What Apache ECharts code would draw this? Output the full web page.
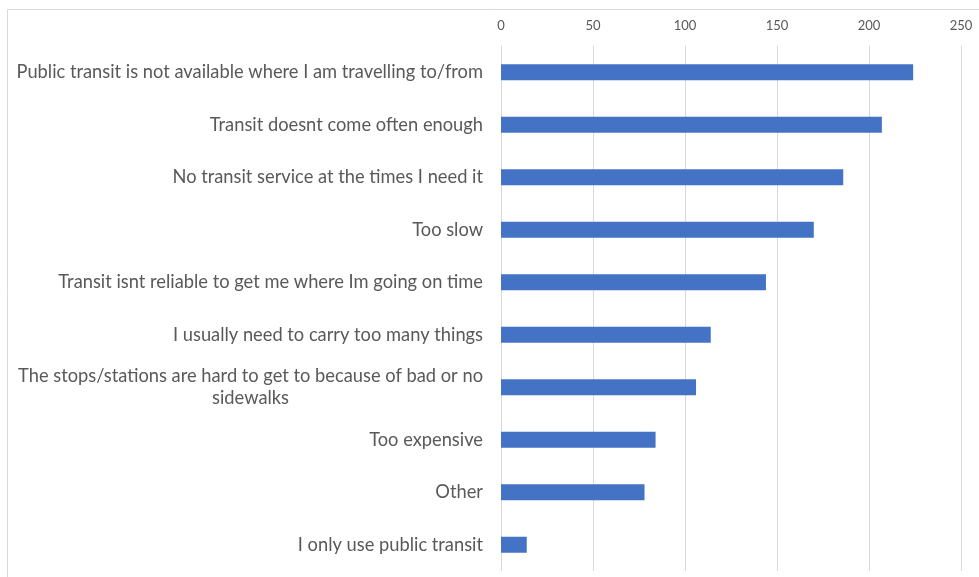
<!DOCTYPE html>
<html>
<head>
<meta charset="utf-8">
<script src="https://cdn.jsdelivr.net/npm/echarts@6/dist/echarts.min.js"></script>
<style>
  html, body { margin: 0; padding: 0; background: #fff; }
  #chart { width: 979px; height: 577px; }
</style>
</head>
<body>
<div id="chart"></div>
<script>
// Reasons for not using public transit, with number of responses
const categories = [
  'Public transit is not available where I am travelling to/from',
  'Transit doesnt come often enough',
  'No transit service at the times I need it',
  'Too slow',
  'Transit isnt reliable to get me where Im going on time',
  'I usually need to carry too many things',
  'The stops/stations are hard to get to because of bad or no\nsidewalks',
  'Too expensive',
  'Other',
  'I only use public transit'
];
const responses = [224, 207, 186, 170, 144, 114, 106, 84, 78, 14];
const valueTicks = [0, 50, 100, 150, 200, 250];

const chart = echarts.init(document.getElementById('chart'));
chart.setOption({
  animation: false,
  backgroundColor: '#ffffff',
  textStyle: { fontFamily: 'Lato, "Noto Sans", sans-serif' },
  graphic: [{
    type: 'rect',
    shape: { x: 7.5, y: 9.5, width: 1000, height: 600 },
    style: { fill: 'none', stroke: '#d9d9d9', lineWidth: 1 },
    silent: true
  }],
  grid: { left: 501, right: 18, top: 46, bottom: 6, containLabel: false },
  xAxis: {
    type: 'value',
    position: 'top',
    min: valueTicks[0],
    max: valueTicks[valueTicks.length - 1],
    interval: valueTicks[1] - valueTicks[0],
    axisLine: { show: false },
    axisTick: { show: false },
    axisLabel: { color: '#595959', fontSize: 13, margin: 14 },
    splitLine: { lineStyle: { color: '#d9d9d9', width: 1 } }
  },
  yAxis: {
    type: 'category',
    data: categories,
    inverse: true,
    axisLine: { show: false },
    axisTick: { show: false },
    axisLabel: {
      color: '#595959',
      fontSize: 18.3,
      margin: 18,
      lineHeight: 22,
      formatter: v => '{c|' + v + '}',
      rich: { c: { align: 'center', color: '#595959', fontSize: 18.3, lineHeight: 22 } }
    }
  },
  series: [{
    type: 'bar',
    data: responses,
    barWidth: 16,
    itemStyle: { color: '#4472C4' }
  }]
});
</script>
</body>
</html>
